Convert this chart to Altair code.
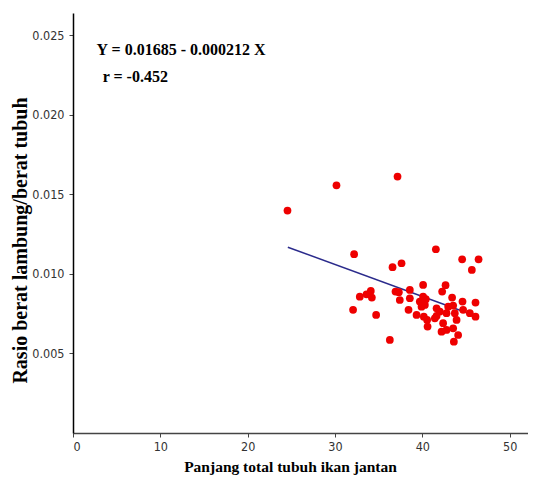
import altair as alt
import pandas as pd

# Scatter data
length_cm = [24.56, 30.17, 37.16, 32.19, 41.55, 44.56, 46.44, 45.67, 36.59, 37.62,
             40.09, 42.66, 42.27, 32.84, 33.61, 34.10, 34.22, 32.07, 34.71, 36.28,
             36.93, 37.31, 37.42, 38.57, 38.57, 38.42, 39.34, 39.71, 40.09, 40.29,
             39.91, 40.40, 40.17, 40.55, 40.60, 41.43, 41.63, 42.01, 42.20, 42.38,
             42.77, 42.96, 43.41, 43.53, 43.72, 43.92, 43.53, 44.10, 43.61, 44.60,
             44.67, 45.44, 46.09, 46.09, 41.63, 42.77]
ratio = [0.01398, 0.01557, 0.01612, 0.01124, 0.01155, 0.01092, 0.01092, 0.01025, 0.01042, 0.01067,
         0.00931, 0.00929, 0.00889, 0.00857, 0.00872, 0.00893, 0.00851, 0.00774, 0.00742, 0.00585,
         0.00889, 0.00885, 0.00836, 0.00899, 0.00847, 0.00774, 0.00742, 0.00826, 0.00857, 0.00805,
         0.00794, 0.00841, 0.00731, 0.00711, 0.00669, 0.00721, 0.00784, 0.00763, 0.00637, 0.00690,
         0.00753, 0.00794, 0.00851, 0.00801, 0.00753, 0.00711, 0.00658, 0.00616, 0.00574, 0.00826,
         0.00774, 0.00753, 0.00820, 0.00731, 0.00736, 0.00648]

# Regression line end points
line_x = [24.6, 45.4]
line_y = [0.01168, 0.00750]

# Annotation text
ann_text = ["Y =  0.01685 - 0.000212 X", "r = -0.452"]
ann_x = [2.7, 3.4]
ann_y = [0.02375, 0.02205]

x_ticks = [0, 10, 20, 30, 40, 50]
y_ticks = [0.005, 0.010, 0.015, 0.020, 0.025]

pts = pd.DataFrame({"x": length_cm, "y": ratio})
ln = pd.DataFrame({"x": line_x, "y": line_y})
ann = pd.DataFrame({"t": ann_text, "x": ann_x, "y": ann_y})

tick_font = "Liberation Sans Narrow, DejaVu Sans Condensed, sans-serif"
serif = "Liberation Serif, Times New Roman, serif"

xscale = alt.Scale(domain=[0, 52.1], nice=False, zero=False)
yscale = alt.Scale(domain=[0, 0.0264], nice=False, zero=False)

xaxis = alt.Axis(values=x_ticks, format="d", grid=False, title="Panjang total tubuh ikan jantan",
                 titleFont=serif, titleFontSize=15.5, titleFontWeight="bold", titleColor="black",
                 titleX=217, titleY=38, titleBaseline="alphabetic", titleAnchor="middle",
                 labelFont=tick_font, labelFontSize=12.5, labelColor="#333333", labelPadding=3,
                 tickSize=4, tickColor="#444444", domainColor="#444444", domainWidth=1.5)
yaxis = alt.Axis(values=y_ticks, format=".3f", grid=False, title="Rasio  berat lambung/berat tubuh",
                 titleFont=serif, titleFontSize=20, titleFontWeight="bold", titleColor="black",
                 titleX=-47, titleY=227, titleBaseline="alphabetic", titleAnchor="middle",
                 labelFont=tick_font, labelFontSize=12.5, labelColor="#333333", labelPadding=5,
                 tickSize=4, tickColor="#444444", domainColor="black", domainWidth=1.5)

points = alt.Chart(pts).mark_circle(size=60, color="#ee0000", opacity=1).encode(
    x=alt.X("x:Q", scale=xscale, axis=xaxis),
    y=alt.Y("y:Q", scale=yscale, axis=yaxis),
)

line = alt.Chart(ln).mark_line(color="#2b2b8c", strokeWidth=1.5).encode(
    x=alt.X("x:Q", scale=xscale),
    y=alt.Y("y:Q", scale=yscale),
)

text = alt.Chart(ann).mark_text(font=serif, fontSize=16, fontWeight="bold", align="left",
                                baseline="alphabetic", color="black").encode(
    x=alt.X("x:Q", scale=xscale),
    y=alt.Y("y:Q", scale=yscale),
    text="t:N",
)

chart = alt.layer(line, points, text).properties(
    width=455, height=420,
    autosize=alt.AutoSizeParams(type="none"),
    padding={"left": 65, "top": 5, "right": 0, "bottom": 42},
    background="white",
).configure_view(stroke=None)

chart.save("out.html", embed_options={"renderer": "svg", "actions": False})
